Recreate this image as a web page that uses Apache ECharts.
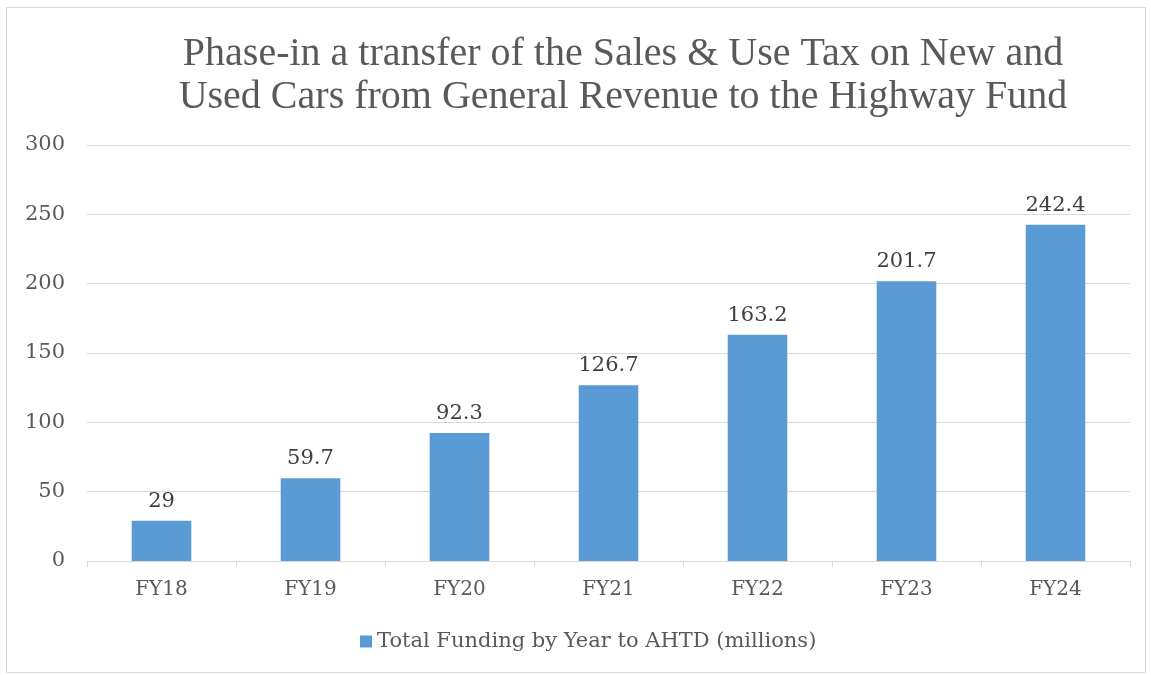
<!DOCTYPE html>
<html><head><meta charset="utf-8">
<script src="https://cdn.jsdelivr.net/npm/echarts@6/dist/echarts.min.js"></script>
<style>html,body{margin:0;padding:0;background:#fff}#c{width:1151px;height:675px}</style>
</head><body><div id="c"></div>
<script>
const categories = ['FY18','FY19','FY20','FY21','FY22','FY23','FY24'];
const values = [29, 59.7, 92.3, 126.7, 163.2, 201.7, 242.4];
const seriesName = 'Total Funding by Year to AHTD (millions)';
const titleText = 'Phase-in a transfer of the Sales & Use Tax on New and\nUsed Cars from General Revenue to the Highway Fund';
const FONT = '"DejaVu Serif", "Liberation Serif", serif';
const TFONT = '"Liberation Serif", "DejaVu Serif", serif';
const chart = echarts.init(document.getElementById('c'));
chart.setOption({
  animation: false,
  graphic: [{type:'rect', shape:{x:6.5,y:7.5,width:1139,height:665}, style:{fill:'none', stroke:'#D9D9D9', lineWidth:1}, silent:true}],
  title: {text: titleText, left: 618, top: 28, textAlign: 'center',
    textStyle: {fontFamily: TFONT, fontSize: 40, fontWeight: 'normal', color: '#595959', lineHeight: 43}},
  legend: {bottom: 18, left: 355, itemWidth: 12, itemHeight: 12, itemGap: 6,
    icon: 'rect', textStyle: {fontFamily: FONT, fontSize: 21, color: '#595959'}, data:[seriesName]},
  grid: {left: 87, right: 21, top: 145, bottom: 114},
  xAxis: {type: 'category', data: categories,
    axisLine: {lineStyle: {color: '#D9D9D9', width: 1}},
    axisTick: {show: true, length: 6, lineStyle: {color: '#D9D9D9'}},
    axisLabel: {fontFamily: FONT, fontSize: 20, color: '#595959', margin: 19}},
  yAxis: {type: 'value', min: 0, max: 300, interval: 50,
    axisLine: {show: false}, axisTick: {show: false},
    splitLine: {lineStyle: {color: '#D9D9D9', width: 1}},
    axisLabel: {fontFamily: FONT, fontSize: 21, color: '#595959', margin: 22}},
  series: [{name: seriesName, type: 'bar', data: values, barWidth: '40%',
    itemStyle: {color: '#5B9BD5'},
    label: {show: true, position: 'top', distance: 9, fontFamily: FONT, fontSize: 21, color: '#404040'}}]
});
</script></body></html>
